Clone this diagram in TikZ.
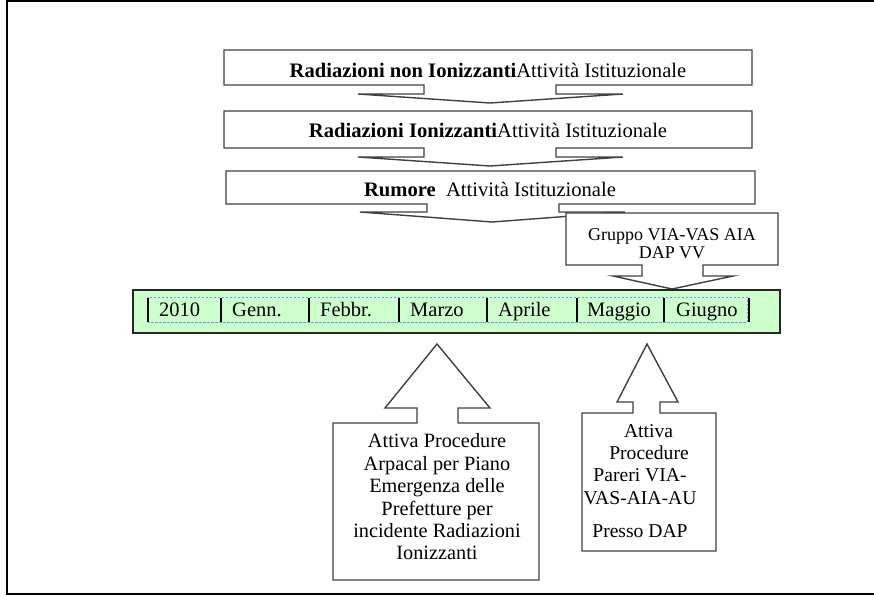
\documentclass[tikz,border=0pt]{standalone}
\usepackage{fontspec}
\setmainfont{Liberation Serif}
\begin{document}
\begin{tikzpicture}[x=1pt,y=-1pt,
  callout/.style={draw=black!75, line width=1.4pt, fill=white, line join=miter},
  boxtext/.style={font=\fontsize{20.6}{22}\selectfont, inner sep=0pt, anchor=base},
  grptext/.style={font=\fontsize{18}{18}\selectfont, inner sep=0pt, align=center},
  bottext/.style={font=\fontsize{20.3}{22.4}\selectfont, inner sep=0pt, align=center},
  month/.style={font=\fontsize{20.5}{20}\selectfont, inner sep=0pt, anchor=base west},
  sep/.style={draw=black, line width=1.3pt},
  frameline/.style={draw=black, line width=2pt}
]
\useasboundingbox (0,0) rectangle (874,595);
% outer frame (open on the right)
\draw[frameline] (874,0.8) -- (7,0.8) -- (7,594) -- (874,594);

% box 1 with down arrow
\draw[callout] (224,50) -- (752,50) -- (752,85) -- (556,85) -- (556,94) -- (623,94)
  -- (490,103) -- (358,94) -- (424,94) -- (424,85) -- (224,85) -- cycle;
\node[boxtext] (t1) at (488,77) {\textbf{Radiazioni non Ionizzanti}Attività Istituzionale};

% box 2 with down arrow
\draw[callout] (224,111) -- (752,111) -- (752,148) -- (556,148) -- (556,157) -- (623,157)
  -- (490,166) -- (358,157) -- (424,157) -- (424,148) -- (224,148) -- cycle;
\node[boxtext] (t2) at (488,137) {\textbf{Radiazioni Ionizzanti}Attività Istituzionale};

% box 3 with down arrow
\draw[callout] (226,171) -- (755,171) -- (755,204) -- (559,204) -- (559,212) -- (625,212)
  -- (492,222) -- (360,212) -- (427,212) -- (427,204) -- (226,204) -- cycle;
\node[boxtext] (t3) at (490,196) {\textbf{Rumore}\ \ Attività Istituzionale};

% Gruppo callout
\draw[callout] (566,213) -- (778,213) -- (778,265) -- (703,265) -- (703,276) -- (733,276)
  -- (672,289) -- (613,276) -- (642,276) -- (642,265) -- (566,265) -- cycle;
\node[grptext] (g) at (672,244) {Gruppo VIA-VAS AIA\\DAP VV};

% green time bar
\draw[draw=black!85, line width=1.5pt, fill={rgb,255:red,204;green,255;blue,204}] (133,290) rectangle (780,333);
\draw[draw={rgb,255:red,110;green,160;blue,230}, line width=0.9pt, dash pattern=on 2.5pt off 1.5pt] (148,297) rectangle (747,322);
\foreach \x in {148,221,309,399,487,577,664,749} \draw[sep] (\x,298) -- (\x,322);
\node[month] (m0) at (159,316) {2010};
\node[month] (m1) at (232,316) {Genn.};
\node[month] (m2) at (320,316) {Febbr.};
\node[month] (m3) at (410,316) {Marzo};
\node[month] (m4) at (498,316) {Aprile};
\node[month] (m5) at (587,316) {Maggio};
\node[month] (m6) at (676,316) {Giugno};

% bottom-left callout (up arrow)
\draw[callout] (333,580) -- (333,423) -- (417,423) -- (417,408) -- (385,408) -- (437,344)
  -- (490,408) -- (458,408) -- (458,423) -- (539,423) -- (539,580) -- cycle;
\node[bottext] (b1) at (437,497) {Attiva Procedure\\Arpacal per Piano\\Emergenza delle\\Prefetture per\\incidente Radiazioni\\Ionizzanti};

% bottom-right callout (up arrow)
\draw[callout] (582,551) -- (582,413) -- (633,413) -- (633,402) -- (617,402) -- (647,344)
  -- (678,402) -- (660,402) -- (660,413) -- (716,413) -- (716,551) -- cycle;
\node[bottext, font=\fontsize{19.6}{22.2}\selectfont] (b2) at (640,481) {\hspace*{17pt}Attiva\\\hspace*{18pt}Procedure\\Pareri VIA-\\VAS-AIA-AU\\[11pt]Presso DAP};
\end{tikzpicture}
\end{document}
